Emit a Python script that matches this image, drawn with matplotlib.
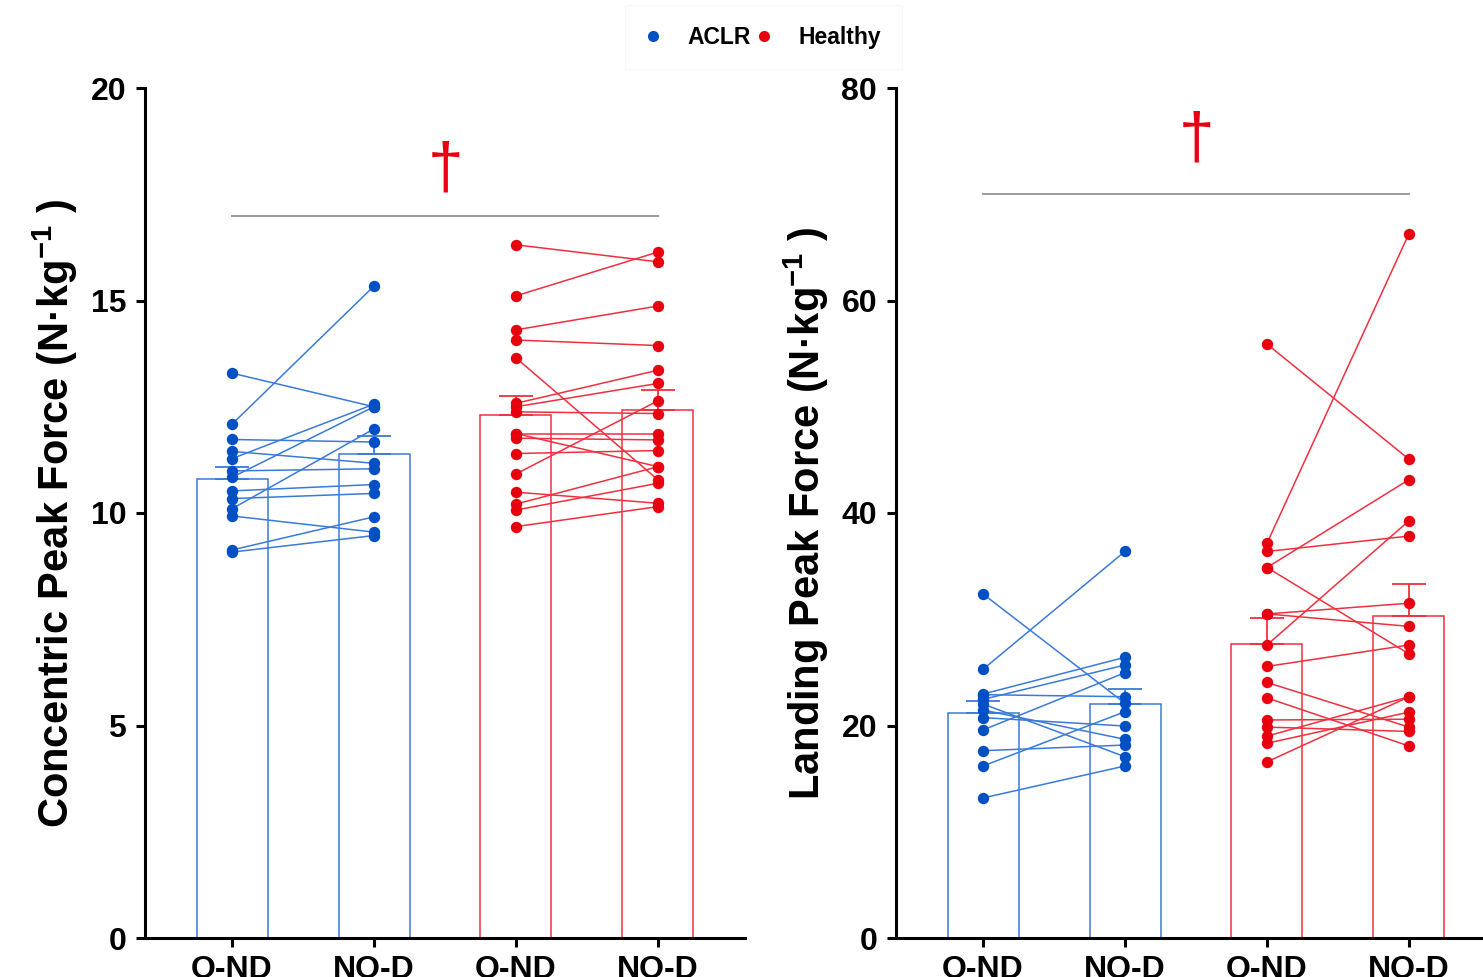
import matplotlib
matplotlib.use("Agg")
import matplotlib.pyplot as plt
from matplotlib.lines import Line2D
import numpy as np

plt.rcParams['font.family'] = ['Liberation Sans', 'DejaVu Sans']
plt.rcParams['font.weight'] = 'bold'
plt.rcParams['mathtext.fontset'] = 'custom'
plt.rcParams['mathtext.rm'] = 'Liberation Sans'
plt.rcParams['mathtext.default'] = 'regular'

# x categories (per group)
conditions = ['O-ND', 'NO-D']
groups = ['ACLR', 'Healthy']

# concentric peak force (N/kg), paired per subject
aclr_conc_ond = [12.09, 13.29, 11.73, 11.45, 11.28, 10.99, 10.84, 10.52, 10.34, 10.10, 9.93, 9.13, 9.08]
aclr_conc_nod = [15.34, 12.50, 11.67, 11.17, 12.56, 11.04, 12.50, 10.67, 10.46, 11.98, 9.55, 9.91, 9.47]
healthy_conc_ond = [16.31, 15.11, 14.31, 14.07, 13.65, 12.58, 12.50, 12.38, 11.87, 11.87, 11.76, 11.40,
                    10.92, 10.49, 10.21, 10.07, 9.68]
healthy_conc_nod = [15.91, 16.14, 14.87, 13.94, 10.78, 13.36, 13.05, 12.34, 11.87, 11.09, 11.72, 11.47,
                    12.64, 10.23, 11.09, 10.70, 10.15]
conc_mean = [10.79, 11.38, 12.30, 12.42]
conc_sem = [0.29, 0.42, 0.46, 0.47]

# landing peak force (N/kg)
aclr_land_ond = [25.29, 32.38, 22.96, 22.46, 19.58, 22.90, 22.02, 21.46, 20.74, 17.63, 16.19, 13.18]
aclr_land_nod = [36.39, 22.09, 26.42, 25.69, 24.97, 22.71, 17.06, 18.70, 19.95, 18.16, 21.30, 16.19]
healthy_land_ond = [37.15, 55.90, 36.38, 34.87, 34.87, 30.50, 30.50, 27.58, 25.56, 24.05, 22.60, 20.52,
                    19.85, 19.00, 18.33, 16.58]
healthy_land_nod = [66.30, 45.06, 37.83, 43.14, 26.74, 31.51, 29.33, 39.27, 27.58, 19.85, 18.07, 20.59,
                    19.44, 22.70, 21.26, 22.70]
land_mean = [21.21, 22.02, 27.64, 30.27]
land_sem = [1.13, 1.38, 2.46, 3.02]

conc_sig = 17.0
land_sig = 70.0

BLUE_DOT = '#0050C4'
BLUE_LINE = '#3A7AD8'
RED_DOT = '#E8000F'
RED_LINE = '#F0303F'


def draw_panel(ax, means, sems, aclr, healthy, ymax, ystep, ylabel, sig_y, dag_y):
    x = np.arange(4)
    edge = [BLUE_LINE, BLUE_LINE, RED_LINE, RED_LINE]
    ax.bar(x, means, width=0.5, facecolor='none', edgecolor=edge, linewidth=1.1, zorder=1)
    for i in range(4):
        ax.errorbar(x[i], means[i], yerr=[[0], [sems[i]]], fmt='none', ecolor=edge[i],
                    elinewidth=1.3, capsize=12.5, capthick=1.3, zorder=2)
    for (a, b), off, lc, dc in [(aclr, 0, BLUE_LINE, BLUE_DOT), (healthy, 2, RED_LINE, RED_DOT)]:
        for ya, yb in zip(a, b):
            ax.plot([off, off + 1], [ya, yb], color=lc, lw=1.1, zorder=3)
        ax.plot([off] * len(a), a, 'o', color=dc, ms=8.2, mec='none', zorder=4)
        ax.plot([off + 1] * len(b), b, 'o', color=dc, ms=8.2, mec='none', zorder=4)

    ax.plot([0, 3], [sig_y, sig_y], color='#9a9a9a', lw=1.4)
    ax.text(1.5, dag_y, '\u2020', color=RED_DOT, fontsize=46, fontweight='normal',
            ha='center', va='center')

    ax.set_xlim(-0.613, 3.613)
    ax.set_ylim(0, ymax)
    ax.set_yticks(np.arange(0, ymax + 1, ystep))
    ax.set_xticks(x)
    ax.set_xticklabels(conditions * 2)
    ax.spines['top'].set_visible(False)
    ax.spines['right'].set_visible(False)
    ax.spines['left'].set_linewidth(2.2)
    ax.spines['bottom'].set_linewidth(2.2)
    ax.tick_params(axis='both', length=6.5, width=2.2, labelsize=23, pad=6)
    ax.tick_params(axis='y', pad=7)
    for lab in ax.get_xticklabels() + ax.get_yticklabels():
        lab.set_fontweight('bold')
    ax.set_ylabel(ylabel, fontsize=30, fontweight='bold')
    ax.yaxis.set_label_coords(-0.108, 0.5)


fig = plt.figure(figsize=(14.83, 9.77), dpi=100)
ax1 = fig.add_axes([145 / 1483, 39 / 977, 600 / 1483, 850 / 977])
ax2 = fig.add_axes([896 / 1483, 39 / 977, 600 / 1483, 850 / 977])

draw_panel(ax1, conc_mean, conc_sem, (aclr_conc_ond, aclr_conc_nod),
           (healthy_conc_ond, healthy_conc_nod), 20, 5,
           'Concentric Peak Force (N\u00b7kg$^{-1}$ )', conc_sig, 18.05)
draw_panel(ax2, land_mean, land_sem, (aclr_land_ond, aclr_land_nod),
           (healthy_land_ond, healthy_land_nod), 80, 20,
           'Landing Peak Force (N\u00b7kg$^{-1}$ )', land_sig, 75.1)

handles = [Line2D([], [], ls='none', marker='o', ms=8, color=BLUE_DOT, mec='none'),
           Line2D([], [], ls='none', marker='o', ms=8, color=RED_DOT, mec='none')]
leg = fig.legend(handles, groups, loc='center', bbox_to_anchor=(0.515, 0.962), ncol=2,
                 frameon=True, fontsize=16.5, handlelength=0.6, handletextpad=1.2,
                 columnspacing=0.3, borderpad=0.9, fancybox=False)
leg.get_frame().set_edgecolor('#f6f6f6')
leg.get_frame().set_linewidth(0.8)
for t in leg.get_texts():
    t.set_fontweight('bold')

fig.savefig('out.png', dpi=100)
